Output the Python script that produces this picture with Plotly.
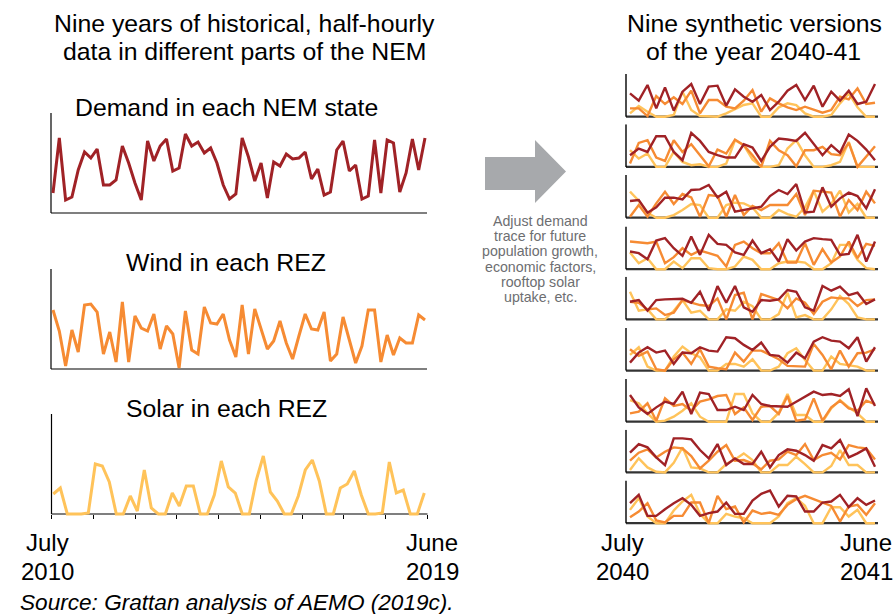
import plotly.graph_objects as go
import numpy as np

W, H = 894, 614

# ---------------- data (arbitrary units) ----------------
hist_demand = [20, 75, 13, 16, 43, 61, 55, 64, 28, 28, 33, 67, 50, 30, 13, 72, 52, 67, 74, 42,
               45, 79, 67, 71, 60, 65, 50, 28, 14, 19, 75, 56, 32, 50, 15, 51, 47, 59, 54, 55,
               61, 34, 44, 18, 21, 63, 72, 42, 48, 14, 17, 73, 20, 73, 70, 21, 40, 74, 43, 75]
hist_wind = [59, 38, 3, 39, 17, 64, 65, 57, 15, 37, 7, 67, 7, 53, 41, 38, 55, 20, 43, 35,
             1, 58, 19, 15, 62, 46, 45, 55, 29, 12, 64, 15, 60, 39, 20, 28, 48, 26, 10, 33,
             55, 40, 39, 57, 8, 15, 52, 29, 6, 23, 59, 59, 7, 34, 14, 31, 26, 26, 54, 49]
hist_solar = [20, 26, 0, 0, 0, 1, 50, 48, 32, 0, 0, 18, 3, 44, 6, 0, 0, 21, 8, 28,
              28, 0, 0, 19, 53, 27, 21, 0, 0, 34, 58, 22, 13, 0, 0, 18, 44, 54, 33, 0,
              0, 26, 30, 43, 19, 0, 0, 1, 52, 21, 24, 0, 0, 21]

syn_demand = [
    [70, 48, 95, 25, 88, 18, 75, 98, 38, 90, 93, 33, 82, 60, 45, 65, 20, 45, 78, 95, 50, 93, 30, 75, 48, 78, 38, 45, 98],
    [35, 55, 45, 92, 92, 45, 20, 102, 78, 45, 35, 28, 28, 68, 58, 18, 60, 85, 82, 78, 102, 68, 35, 65, 42, 97, 78, 52, 20],
    [50, 53, 15, 31, 60, 60, 55, 83, 85, 98, 61, 78, 18, 23, 28, 33, 65, 83, 71, 101, 16, 18, 91, 33, 58, 75, 65, 28, 85],
    [53, 48, 30, 86, 93, 63, 40, 98, 43, 103, 76, 73, 50, 43, 86, 48, 60, 23, 90, 56, 83, 93, 90, 88, 43, 46, 103, 23, 83],
    [53, 58, 26, 58, 60, 62, 62, 50, 83, 26, 100, 50, 100, 36, 23, 58, 56, 60, 88, 83, 36, 26, 100, 86, 98, 73, 80, 46, 60],
    [24, 54, 70, 54, 60, 20, 54, 52, 70, 60, 57, 100, 97, 77, 62, 84, 47, 44, 24, 54, 37, 87, 100, 90, 87, 67, 100, 27, 70],
    [80, 43, 23, 43, 60, 53, 90, 23, 87, 83, 35, 35, 45, 35, 80, 53, 47, 47, 45, 60, 75, 90, 80, 83, 77, 97, 17, 100, 47],
    [59, 85, 75, 45, 22, 102, 102, 99, 67, 42, 85, 22, 42, 25, 25, 62, 15, 52, 69, 65, 52, 35, 82, 72, 97, 45, 57, 72, 17],
    [60, 85, 22, 22, 42, 60, 75, 55, 22, 30, 35, 62, 28, 28, 68, 88, 98, 50, 82, 80, 35, 35, 62, 65, 85, 48, 75, 55, 68],
]
syn_wind = [
    [25, 25, 2, 62, 38, 58, 38, 78, 10, 50, 50, 30, 25, 48, 80, 15, 55, 40, 28, 20, 30, 22, 12, 20, 60, 52, 85, 38, 42],
    [10, 72, 80, 28, 18, 80, 45, 68, 35, 2, 52, 40, 82, 65, 35, 0, 78, 50, 35, 2, 50, 50, 60, 38, 35, 72, 0, 32, 62],
    [3, 38, 3, 43, 78, 41, 71, 61, 3, 68, 65, 3, 68, 8, 35, 23, 38, 38, 38, 71, 8, 81, 78, 75, 3, 53, 23, 78, 43],
    [83, 80, 78, 83, 18, 36, 63, 43, 56, 48, 40, 8, 73, 83, 63, 48, 48, 78, 20, 20, 78, 13, 60, 20, 38, 83, 33, 76, 70],
    [53, 50, 30, 33, 13, 20, 58, 50, 43, 40, 63, 0, 73, 80, 0, 76, 66, 58, 33, 63, 50, 16, 53, 66, 63, 63, 40, 58, 60],
    [64, 44, 57, 4, 0, 34, 54, 20, 64, 12, 7, 4, 54, 27, 60, 60, 47, 34, 14, 14, 12, 80, 47, 4, 60, 12, 52, 54, 64],
    [25, 30, 55, 3, 70, 47, 53, 33, 60, 67, 77, 80, 23, 43, 5, 45, 47, 23, 77, 3, 7, 70, 3, 43, 63, 40, 33, 63, 53],
    [35, 59, 69, 45, 62, 75, 72, 49, 12, 35, 62, 82, 35, 37, 27, 9, 35, 39, 62, 52, 85, 37, 52, 59, 39, 82, 75, 72, 39],
    [18, 35, 60, 8, 2, 22, 22, 62, 62, 0, 82, 42, 50, 2, 38, 28, 32, 25, 55, 72, 82, 72, 60, 52, 5, 50, 55, 25, 60],
]
syn_solar = [
    [10, 32, 15, 0, 0, 5, 75, 20, 2, 0, 0, 10, 22, 35, 40, 0, 0, 28, 40, 35, 10, 0, 0, 5, 40, 70, 28, 0, 0],
    [50, 25, 40, 0, 0, 45, 15, 5, 8, 0, 0, 10, 80, 65, 22, 0, 0, 5, 55, 80, 35, 0, 0, 5, 15, 75, 0, 0, 0],
    [78, 51, 15, 0, 0, 8, 23, 41, 38, 0, 0, 38, 45, 43, 31, 0, 0, 23, 11, 3, 31, 81, 18, 41, 81, 15, 41, 0, 0],
    [50, 18, 33, 0, 0, 23, 3, 33, 33, 3, 0, 0, 8, 38, 28, 0, 0, 18, 23, 23, 20, 0, 0, 18, 73, 73, 28, 3, 0],
    [83, 26, 30, 0, 0, 26, 58, 20, 26, 0, 0, 30, 26, 53, 40, 0, 0, 16, 80, 6, 13, 0, 0, 30, 70, 46, 6, 0, 0],
    [47, 70, 12, 0, 0, 42, 72, 52, 40, 0, 0, 20, 20, 12, 34, 0, 0, 12, 52, 67, 32, 0, 0, 42, 20, 17, 12, 0, 0],
    [65, 55, 25, 0, 3, 15, 33, 55, 15, 0, 0, 0, 83, 83, 25, 0, 0, 27, 83, 20, 20, 0, 0, 40, 65, 43, 25, 0, 0],
    [7, 42, 15, 2, 0, 29, 75, 15, 12, 0, 0, 25, 39, 57, 37, 0, 0, 22, 22, 47, 25, 0, 0, 19, 67, 22, 22, 0, 0],
    [40, 75, 20, 0, 0, 38, 65, 85, 28, 0, 0, 28, 20, 15, 0, 0, 0, 20, 60, 75, 52, 0, 0, 48, 48, 20, 40, 0, 0],
]

left_titles = ["Demand in each NEM state", "Wind in each REZ", "Solar in each REZ"]
hist_x_labels = [("July", "2010"), ("June", "2019")]
syn_x_labels = [("July", "2040"), ("June", "2041")]
arrow_text = ["Adjust demand", "trace for future", "population growth,",
              "economic factors,", "rooftop solar", "uptake, etc."]

# ---------------- styles ----------------
C_DEM, C_WIND, C_SOL = "#A02226", "#F68B33", "#FFC35A"
FONT = "Arial, Liberation Sans, Helvetica, sans-serif"
PAD = 2.5  # px of room below zero so zero-valued lines are not clipped


def fx(p):
    return p / W


def fy(p):
    return 1 - p / H


fig = go.Figure()
layout = {}
shapes = []
annotations = []
idx = [0]


def add_panel(series, colors, width, left, right, bottom, top, vmax,
              first, last, xline_w, xline_c, yline_w, ticks=0):
    idx[0] += 1
    n = idx[0]
    sx = "" if n == 1 else str(n)
    npts = len(series[0])
    per = (last - first) / (npts - 1)
    lo = -(first - left) / per
    hi = (npts - 1) + (right - last) / per
    ppu = (bottom - top) / vmax
    ylo = -PAD / ppu
    for vals, col in zip(series, colors):
        fig.add_trace(go.Scatter(x=list(range(len(vals))), y=vals, mode="lines",
                                 line=dict(color=col, width=width),
                                 xaxis="x" + sx, yaxis="y" + sx,
                                 hoverinfo="skip", showlegend=False))
    xa = dict(domain=[fx(left), fx(right)], range=[lo, hi], showgrid=False,
              zeroline=False, showline=False, showticklabels=False,
              fixedrange=True, anchor="y" + sx)
    if ticks:
        xa.update(anchor="free", position=fy(bottom), ticks="outside",
                  tickvals=list(np.linspace(lo, hi, ticks)), ticklen=4,
                  tickwidth=1.2, tickcolor="black")
    else:
        xa.update(visible=False)
    layout["xaxis" + sx] = xa
    layout["yaxis" + sx] = dict(domain=[fy(bottom + PAD), fy(top)], range=[ylo, vmax],
                                visible=False, fixedrange=True, anchor="x" + sx)
    shapes.append(dict(type="line", layer="below", xref="x" + sx + " domain", yref="y" + sx,
                       x0=0, x1=1, y0=0, y1=0, line=dict(color=xline_c, width=xline_w)))
    shapes.append(dict(type="line", layer="below", xref="x" + sx + " domain", yref="y" + sx,
                       x0=0, x1=0, y0=0, y1=vmax, line=dict(color="black", width=yline_w)))


# left, historical panels
add_panel([hist_demand], [C_DEM], 3, 51, 427, 213, 113, 100, 53, 425, 1.2, "black", 1.2)
add_panel([hist_wind], [C_WIND], 3, 51, 427, 369, 269, 100, 53, 425, 1.2, "black", 1.2)
add_panel([hist_solar], [C_SOL], 3, 51.5, 427.5, 514, 414, 100, 53.3, 424.3, 1.2, "black", 1.2,
          ticks=10)

# right, synthetic panels
bottoms = [116.7, 166.9, 217.7, 269.2, 319.4, 370.6, 421.7, 472.4, 523.2]
for k, b in enumerate(bottoms):
    add_panel([syn_solar[k], syn_wind[k], syn_demand[k]], [C_SOL, C_WIND, C_DEM], 2.4,
              626, 878, b, b - 42.7, 128, 630, 875, 2.2, "#333333", 1.4)

# arrow
ax = [485, 535, 535, 566, 535, 535, 485]
ay = [157, 157, 140, 171.5, 203, 190, 190]
path = "M " + " L ".join(f"{fx(a):.5f},{fy(b):.5f}" for a, b in zip(ax, ay)) + " Z"
shapes.append(dict(type="path", xref="paper", yref="paper", path=path,
                   fillcolor="#A7A9AC", line=dict(width=0)))


def text(x, y, s, size, color="black", xanchor="center", italic=False):
    annotations.append(dict(x=fx(x), y=fy(y), xref="paper", yref="paper", text=s,
                            showarrow=False, xanchor=xanchor, yanchor="middle",
                            font=dict(family=FONT, size=size, color=color,
                                      style="italic" if italic else "normal")))


text(244, 23.5, "Nine years of historical, half-hourly", 24.8)
text(245, 51, "data in different parts of the NEM", 24.8)
text(754, 23.5, "Nine synthetic versions", 24.8)
text(753, 51, "of the year 2040-41", 24.8)

for t, yc in zip(left_titles, [108, 262, 408]):
    text(226, yc, t, 24.8)

for (a, b), xc in zip(hist_x_labels, [47, 432]):
    text(xc, 542.5, a, 24)
    text(xc, 571, b, 24)
for (a, b), xc in zip(syn_x_labels, [622.5, 866]):
    text(xc, 542.5, a, 24)
    text(xc, 571, b, 24)

for i, line in enumerate(arrow_text):
    text(540, 221 + 15.2 * i, line, 14.2, color="#6D6E71")

text(18, 602, "Source: Grattan analysis of AEMO (2019c).", 22.6, xanchor="left", italic=True)

fig.update_layout(width=W, height=H, margin=dict(l=0, r=0, t=0, b=0),
                  paper_bgcolor="white", plot_bgcolor="rgba(0,0,0,0)",
                  showlegend=False, shapes=shapes, annotations=annotations, **layout)
fig.write_html("out.html", config={"displayModeBar": False},
               post_script="document.body.style.margin='0px';document.body.style.padding='0px';")
